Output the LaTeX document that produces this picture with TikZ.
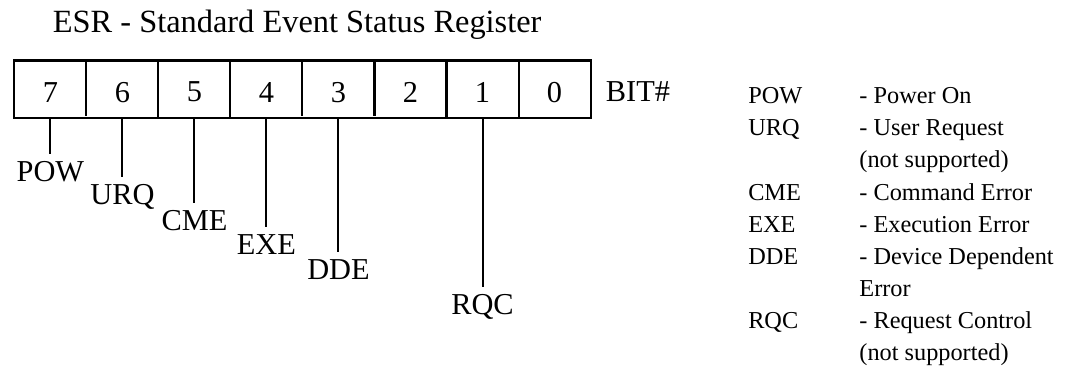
\documentclass[tikz,border=0pt]{standalone}
\usepackage{fontspec}
\setmainfont{Liberation Serif}
\usepackage{array}

\begin{document}
\begin{tikzpicture}[font=\fontsize{15}{18}\selectfont, line width=1pt]
\useasboundingbox (0,0) rectangle (18.52,-6.35);
\node (title) [anchor=base west, inner sep=0pt, font=\fontsize{16}{19}\selectfont] at (0.9,-0.56) {ESR - Standard Event Status Register};
\node (reg) [draw, minimum width=10cm, minimum height=1cm, inner sep=0pt] at (5.25,-1.55) {};
\draw (1.5,-1.05) -- (1.5,-2.01);
\draw (2.75,-1.05) -- (2.75,-2.05);
\draw (4,-1.05) -- (4,-2.05);
\draw (5.25,-1.05) -- (5.25,-2.01);
\draw (6.5,-1.05) -- (6.5,-2.01);
\draw (7.75,-1.05) -- (7.75,-2.05);
\draw (9,-1.05) -- (9,-2.05);
\node (b7) at (0.875,-1.6) {7};
\node (b6) at (2.125,-1.6) {6};
\node (b5) at (3.375,-1.6) {5};
\node (b4) at (4.625,-1.6) {4};
\node (b3) at (5.875,-1.6) {3};
\node (b2) at (7.125,-1.6) {2};
\node (b1) at (8.375,-1.6) {1};
\node (b0) at (9.625,-1.6) {0};
\node (bit) [anchor=base west, inner sep=0pt] at (10.5,-1.77) {BIT\#};
\node (pow) [anchor=north] at (0.875,-2.67) {POW};
\node (urq) [anchor=north] at (2.125,-3.07) {URQ};
\node (cme) [anchor=north] at (3.375,-3.52) {CME};
\node (exe) [anchor=north] at (4.625,-3.94) {EXE};
\node (dde) [anchor=north] at (5.875,-4.37) {DDE};
\node (rqc) [anchor=north] at (8.375,-4.98) {RQC};
\draw (b7 |- reg.south) -- (pow);
\draw (b6 |- reg.south) -- (urq);
\draw (b5 |- reg.south) -- (cme);
\draw (b4 |- reg.south) -- (exe);
\draw (b3 |- reg.south) -- (dde);
\draw (b1 |- reg.south) -- (rqc);
\node (legend) [anchor=base west, inner sep=0pt, font=\fontsize{12}{15.86}\selectfont] at (12.97,-1.8) {%
\begin{tabular}[t]{@{}p{1.93cm}@{}l@{}}
POW & - Power On\\
URQ & - User Request\\
    & (not supported)\\
CME & - Command Error\\
EXE & - Execution Error\\
DDE & - Device Dependent\\
    & Error\\
RQC & - Request Control\\
    & (not supported)
\end{tabular}};
\end{tikzpicture}
\end{document}
